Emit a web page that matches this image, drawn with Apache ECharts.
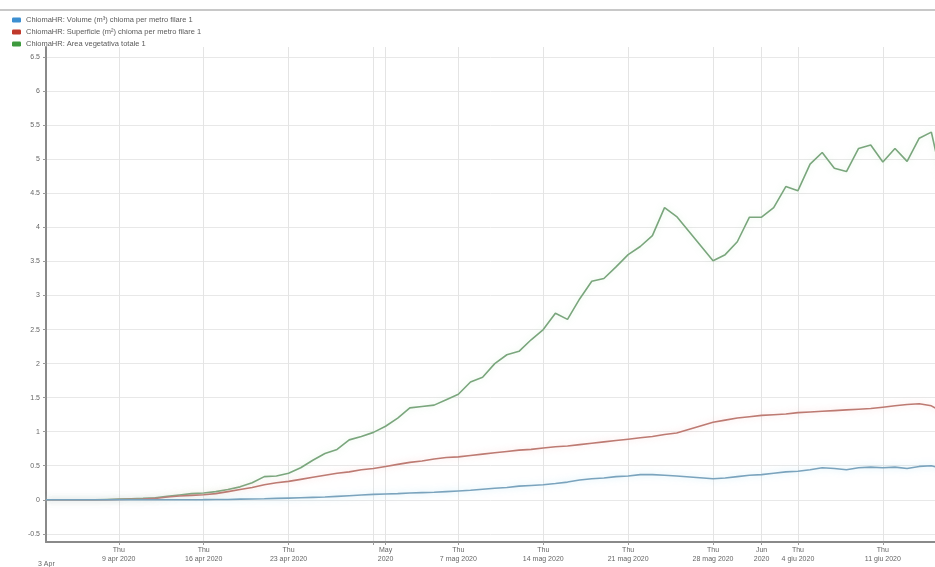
<!DOCTYPE html>
<html>
<head>
<meta charset="utf-8">
<script src="https://cdn.jsdelivr.net/npm/echarts@6/dist/echarts.min.js"></script>
<style>
html,body{margin:0;padding:0;background:#fff;}
#chart{width:935px;height:567px;}
</style>
</head>
<body>
<div id="chart"></div>
<script>
// ---- data ----
const startDate = "2020-04-03"; // first sample day
const seriesNames = [
  "ChiomaHR: Volume (m³) chioma per metro filare 1",
  "ChiomaHR: Superficie (m²) chioma per metro filare 1",
  "ChiomaHR: Area vegetativa totale 1"
];
// daily values from 3 Apr to 16 Jun 2020 (null = no sample)
const volume = [0,0,0,0,0,0,0,0,0,0,0,0,0,0.002,0.005,0.005,0.01,0.012,0.015,0.02,0.025,0.03,0.035,0.04,0.05,0.06,0.07,0.08,0.085,0.09,0.1,0.105,0.11,0.12,0.13,0.14,0.155,0.17,0.18,0.2,0.21,0.22,0.24,0.26,0.29,0.31,0.32,0.34,0.35,0.37,0.37,0.36,0.35,null,null,0.31,0.32,0.34,0.36,0.37,0.39,0.41,0.42,0.44,0.47,0.46,0.44,0.47,0.48,0.47,0.48,0.46,0.49,0.5,0.45];
const superficie = [0,0,0,0,0,0,0.005,0.008,0.01,0.02,0.04,0.055,0.065,0.075,0.09,0.12,0.15,0.18,0.22,0.25,0.27,0.3,0.33,0.36,0.39,0.41,0.44,0.46,0.49,0.52,0.55,0.57,0.6,0.62,0.63,0.65,0.67,0.69,0.71,0.73,0.74,0.76,0.78,0.79,0.81,0.83,0.85,0.87,0.89,0.91,0.93,0.96,0.98,null,null,1.14,1.17,1.2,1.22,1.24,1.25,1.26,1.28,1.29,1.3,1.31,1.32,1.33,1.34,1.36,1.38,1.4,1.41,1.38,1.28];
const areaVeg = [0,0,0,0,0,0.005,0.01,0.015,0.02,0.03,0.05,0.07,0.09,0.1,0.12,0.15,0.19,0.25,0.34,0.35,0.39,0.47,0.58,0.68,0.74,0.88,0.93,0.99,1.08,1.2,1.35,1.37,1.39,1.47,1.55,1.73,1.8,2.0,2.13,2.18,2.35,2.5,2.74,2.65,2.95,3.21,3.25,3.42,3.6,3.72,3.88,4.29,4.16,null,null,3.51,3.6,3.79,4.15,4.15,4.29,4.6,4.54,4.93,5.1,4.87,4.82,5.16,5.21,4.96,5.16,4.97,5.31,5.4,4.6];
// y ticks
const yTicks = [-0.5,0,0.5,1,1.5,2,2.5,3,3.5,4,4.5,5,5.5,6,6.5];
// x gridline/tick dates (Thursdays + month starts)
const xTickDates = ["2020-04-09","2020-04-16","2020-04-23","2020-04-30","2020-05-01","2020-05-07","2020-05-14","2020-05-21","2020-05-28","2020-06-01","2020-06-04","2020-06-11"];
// labelled dates and their texts
const xLabelDates = ["2020-04-09","2020-04-16","2020-04-23","2020-05-01","2020-05-07","2020-05-14","2020-05-21","2020-05-28","2020-06-01","2020-06-04","2020-06-11"];
const xLabelTexts = ["Thu\n9 apr 2020","Thu\n16 apr 2020","Thu\n23 apr 2020","May\n2020","Thu\n7 mag 2020","Thu\n14 mag 2020","Thu\n21 mag 2020","Thu\n28 mag 2020","Jun\n2020","Thu\n4 giu 2020","Thu\n11 giu 2020"];
const lineColors = ["#7aa3bd","#bd7a72","#7aa67d"];
const glowColors = ["rgba(150,215,240,0.55)","rgba(245,170,170,0.45)","rgba(170,220,170,0.35)"];
const legendColors = ["#3d8fd1","#c0392b","#3e9a3e"];

// ---- build ----
function utc(s){const p=s.split('-').map(Number);return Date.UTC(p[0],p[1]-1,p[2]);}
const dayMs = 86400000;
const t0 = utc(startDate);
function dayIdx(s){return Math.round((utc(s)-t0)/dayMs);}
function toPairs(arr){return arr.map((v,i)=>[i, v]);}
const tickVals = xTickDates.map(dayIdx);
const labelVals = xLabelDates.map(dayIdx);
const labelMap = {};
labelVals.forEach((v,i)=>{labelMap[v]=xLabelTexts[i];});

const chart = echarts.init(document.getElementById('chart'));
const font = "'Liberation Sans', Arial, sans-serif";
const values = [volume, superficie, areaVeg];
chart.setOption({
  animation:false,
  backgroundColor:'#fff',
  textStyle:{fontFamily:font},
  legend:{
    orient:'vertical', left:7, top:11, itemWidth:9, itemHeight:5, itemGap:4,
    icon:'roundRect',
    textStyle:{fontSize:7.5, color:'#5a5a5a', fontFamily:font},
    data: seriesNames.map((n,i)=>({name:n, itemStyle:{color:legendColors[i]}}))
  },
  grid:{left:46, right:0, top:47, bottom:25, containLabel:false},
  xAxis:{
    type:'value',
    min:0, max:73.3,
    axisLine:{show:true, onZero:false, lineStyle:{color:'#8a8a8a', width:2}},
    axisTick:{show:true, customValues:tickVals, length:3, lineStyle:{color:'#999'}},
    axisLabel:{customValues:labelVals, fontSize:7, color:'#666', lineHeight:9, margin:4,
      formatter:(v)=>labelMap[v]||''},
    splitLine:{show:true, lineStyle:{color:'#e4e4e4', width:1}}
  },
  yAxis:{
    type:'value', min:-0.62, max:6.65,
    axisLine:{show:true, onZero:false, lineStyle:{color:'#8a8a8a', width:2}},
    axisTick:{show:true, customValues:yTicks, length:3, lineStyle:{color:'#999'}},
    axisLabel:{customValues:yTicks, fontSize:7, color:'#666', margin:6},
    splitLine:{show:true, lineStyle:{color:'#e8e8e8', width:1}}
  },
  series: seriesNames.map((n,i)=>({
    name:n, type:'line', data:toPairs(values[i]), showSymbol:false, symbol:'none',
    connectNulls:true,
    lineStyle:{color:lineColors[i], width:1.6, shadowColor:glowColors[i], shadowBlur:6},
    itemStyle:{color:lineColors[i]},
    z: 3-i
  })),
  graphic:[
    {type:'rect', left:0, top:9, shape:{width:935, height:2}, style:{fill:'#c8c8c8'}, silent:true},
    {type:'text', left:38, top:561, style:{text:'3 Apr', fontSize:7, fill:'#666', fontFamily:font}, silent:true}
  ]
});
</script>
</body>
</html>
